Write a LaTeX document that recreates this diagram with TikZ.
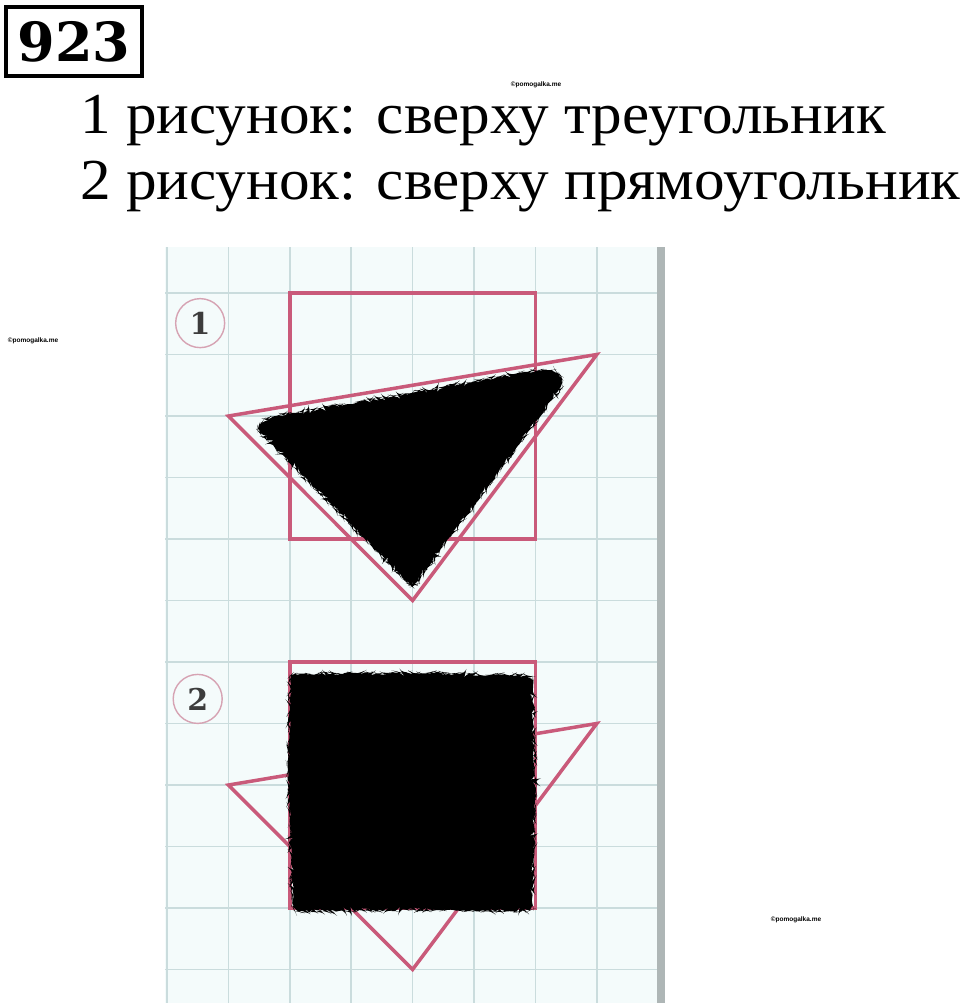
\documentclass[tikz,border=0pt]{standalone}
\usepackage{fontspec}
\setmainfont{Liberation Serif}
\newfontfamily\numfont{DejaVu Serif}
\newfontfamily\wmfont{Liberation Sans}
\usetikzlibrary{decorations.pathmorphing}
\definecolor{gridbg}{HTML}{F4FBFB}
\definecolor{gridline}{HTML}{CADCDD}
\definecolor{edgebar}{HTML}{AEB6B6}
\definecolor{pinkline}{HTML}{C95A7A}
\definecolor{circline}{HTML}{D6A3B3}
\definecolor{digitgray}{HTML}{3C3C3C}
\tikzset{
  maintext/.style={anchor=base west, inner sep=0pt, font=\fontsize{58}{60}\selectfont},
  wmark/.style={inner sep=0pt, font=\wmfont\bfseries\fontsize{6.5}{7}\selectfont},
  figline/.style={draw=pinkline, line width=3.5pt, line join=miter},
  numcirc/.style={circle, draw=circline, line width=1.4pt, minimum size=49pt, inner sep=0pt,
    font=\numfont\bfseries\fontsize{30}{30}\selectfont, text=digitgray},
  scribble/.style={fill=black, rounded corners=6pt, decorate,
    decoration={random steps, segment length=3pt, amplitude=1.6pt}},
  gridstyle/.style={draw=gridline, line width=1.5pt}
}
\begin{document}
\begin{tikzpicture}[x=1pt,y=-1pt]
\useasboundingbox (0,0) rectangle (960,1003);
% header
\node[draw=black, line width=4pt, minimum width=136pt, minimum height=69pt, inner sep=0pt,
  font=\numfont\bfseries\fontsize{54}{54}\selectfont] (num) at (74,41.5) {923};
\node[maintext] (line1) at (80,134) {\scalebox{1.055}[1]{1 рисунок: сверху треугольник}};
\node[maintext] (line2) at (80,200) {\scalebox{1.055}[1]{2 рисунок: сверху прямоугольник}};
% watermarks
\node[wmark] (wm1) at (536,85) {©pomogalka.me};
\node[wmark] (wm2) at (33,341) {©pomogalka.me};
\node[wmark] (wm3) at (796,920) {©pomogalka.me};
% grid paper
\fill[gridbg] (165,247) rectangle (657,1003);
\begin{scope}
\clip (165,247) rectangle (657,1003);
\begin{scope}[shift={(167pt,-293pt)}, x=61.4pt, y=-61.5pt]
\foreach \i in {0,...,8} \draw[gridstyle] (\i,-1) -- (\i,12);
\foreach \j in {0,...,11} \draw[gridstyle] (-1,\j) -- (9,\j);
\end{scope}
\end{scope}
\fill[edgebar] (657,247) rectangle (665,1003);
\begin{scope}[shift={(167pt,-293pt)}, x=61.4pt, y=-61.5pt]
% figure 1
\coordinate (r1a) at (2,0);
\coordinate (r1b) at (6,4);
\coordinate (t1l) at (1,2);
\coordinate (t1r) at (7,1);
\coordinate (t1b) at (4,5);
\draw[figline] (r1a) rectangle (r1b);
\draw[figline] (t1l) -- (t1r) -- (t1b) -- cycle;
\fill[scribble] (1.45,2.2) -- (1.62,2.03) -- (4,1.62) -- (6.05,1.24) -- (6.35,1.27) -- (6.48,1.45)
  -- (4.05,4.74) -- (3.95,4.74) -- cycle;
\node[numcirc] (c1) at (0.54,0.49) {1};
% figure 2
\coordinate (r2a) at (2,6);
\coordinate (r2b) at (6,10);
\coordinate (t2l) at (1,8);
\coordinate (t2r) at (7,7);
\coordinate (t2b) at (4,11);
\draw[figline] (r2a) rectangle (r2b);
\draw[figline] (t2l) -- (t2r) -- (t2b) -- cycle;
\fill[scribble] (2.0,6.2) -- (4,6.17) -- (5.95,6.22) -- (6.0,8) -- (5.95,10.05) -- (4,10.02) -- (2.05,10.06) -- (1.97,8) -- cycle;
\node[numcirc] (c2) at (0.5,6.6) {2};
\end{scope}
\end{tikzpicture}
\end{document}
